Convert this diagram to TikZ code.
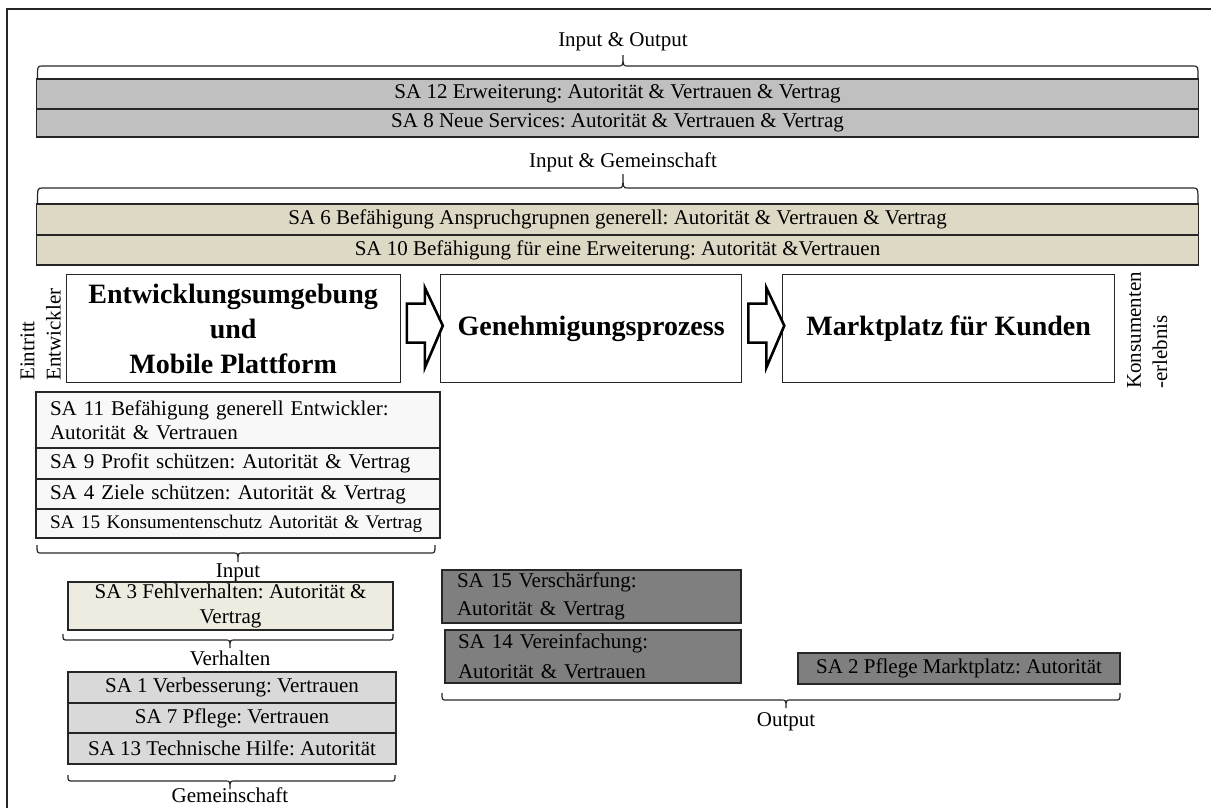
\documentclass[tikz,border=0pt]{standalone}
\usepackage{fontspec}
\setmainfont{Liberation Serif}
\definecolor{barGray}{HTML}{C0C0C0}
\definecolor{barBeige}{HTML}{DDD9C4}
\definecolor{devGray}{HTML}{F8F8F8}
\definecolor{behBeige}{HTML}{EEECE1}
\definecolor{comGray}{HTML}{D9D9D9}
\definecolor{outGray}{HTML}{7F7F7F}
% curly brace: x1, x2, x of tip, y of ends, y of bar, y of tip
\newcommand\sabrace[6]{%
  \draw[bracestyle] (#1,#4) .. controls (#1,#5) .. (#1+5,#5) -- (#3-5,#5)
    .. controls (#3,#5) .. (#3,#6) .. controls (#3,#5) .. (#3+5,#5)
    -- (#2-5,#5) .. controls (#2,#5) .. (#2,#4);}
\begin{document}
\frenchspacing
\begin{tikzpicture}[x=1pt,y=-1pt,
  regfont/.style={font=\fontsize{21}{24}\selectfont},
  sabox/.style={draw=black!85, line width=1.3pt, inner sep=0pt, outer sep=0pt,
    anchor=north west, regfont},
  leftbox/.style={sabox, align=left, inner xsep=14pt, text width=#1},
  titlebox/.style={draw=black!85, line width=1.3pt, inner sep=0pt, anchor=north west,
    align=center, font=\fontsize{28}{35}\selectfont\bfseries},
  lab/.style={inner sep=0pt, regfont},
  bracestyle/.style={draw=black!85, line width=1.2pt},
  blockarrow/.style={draw=black, line width=2.6pt, fill=white, line join=miter},
]
\useasboundingbox (0,0) rectangle (1211,807);
% outer frame
\draw[line width=1.5pt, black!85] (1215,9) -- (7,9) -- (7,812);

% top bars
\node[lab] (io) at (623,42) {Input \& Output};
\sabrace{37.5}{1198}{623}{78}{66}{55}
\node[sabox, fill=barGray, minimum width=1162pt, minimum height=30pt] (sa12) at (36.5,79)
  {SA 12 Erweiterung: Autorität \& Vertrauen \& Vertrag};
\node[sabox, fill=barGray, minimum width=1162pt, minimum height=28pt] (sa8) at (36.5,109)
  {SA 8 Neue Services: Autorität \& Vertrauen \& Vertrag};

\node[lab] (ig) at (623,162) {Input \& Gemeinschaft};
\sabrace{37.5}{1198}{623}{203}{188}{174}
\node[sabox, fill=barBeige, minimum width=1162pt, minimum height=31pt] (sa6) at (36.5,204)
  {SA 6 Befähigung Anspruchgrupnen generell: Autorität \& Vertrauen \& Vertrag};
\node[sabox, fill=barBeige, minimum width=1162pt, minimum height=30pt] (sa10) at (36.5,235)
  {SA 10 Befähigung für eine Erweiterung: Autorität \&Vertrauen};

% process chain
\node[titlebox, minimum width=334pt, minimum height=108pt] (dev) at (65.5,274)
  {Entwicklungsumgebung\\und\\Mobile Plattform};
\node[titlebox, minimum width=301pt, minimum height=108pt] (gen) at (440,274)
  {Genehmigungsprozess};
\node[titlebox, minimum width=332pt, minimum height=108pt] (mkt) at (782,274)
  {Marktplatz für Kunden};
\draw[blockarrow, shift={(dev.east)}] (6,-25) -- (24,-25) -- (24,-41) -- (42,-3)
  -- (24,39) -- (24,14) -- (6,14) -- cycle;
\draw[blockarrow, shift={(gen.east)}] (6,-25) -- (24,-25) -- (24,-41) -- (42,-3)
  -- (24,39) -- (24,14) -- (6,14) -- cycle;

\node[lab, rotate=90, anchor=west] (eintritt) at (27.5,381) {Eintritt};
\node[lab, rotate=90, anchor=west] (entw) at (53.5,381) {Entwickler};
\node[lab, rotate=90, anchor=west] (kons) at (1134,389) {Konsumenten};
\node[lab, rotate=90, anchor=west] (erl) at (1160,389) {-erlebnis};

% developer side
\node[leftbox=376pt, fill=devGray, minimum height=56pt] (sa11) at (36,392)
  {SA 11 Befähigung generell Entwickler:\\Autorität \& Vertrauen};
\node[leftbox=376pt, fill=devGray, minimum height=31pt] (sa9) at (36,448)
  {SA 9 Profit schützen: Autorität \& Vertrag};
\node[leftbox=376pt, fill=devGray, minimum height=30pt] (sa4) at (36,479)
  {SA 4 Ziele schützen: Autorität \& Vertrag};
\node[leftbox=376pt, fill=devGray, minimum height=29pt, font=\fontsize{19.2}{22}\selectfont] (sa15k) at (36,509)
  {\mbox{SA 15 Konsumentenschutz Autorität \& Vertrag}};
\sabrace{37}{435}{238}{545}{553}{562}
\node[lab] (inp) at (238,573) {Input};

\node[sabox, fill=behBeige, minimum width=325pt, minimum height=48pt, align=center,
  font=\fontsize{21}{25}\selectfont] (sa3) at (68,582)
  {SA 3 Fehlverhalten: Autorität \&\\Vertrag};
\sabrace{63}{393}{230}{634}{640}{648}
\node[lab] (verh) at (230,658) {Verhalten};

\node[sabox, fill=comGray, minimum width=328pt, minimum height=31pt] (sa1) at (68,672)
  {SA 1 Verbesserung: Vertrauen};
\node[sabox, fill=comGray, minimum width=328pt, minimum height=30pt] (sa7) at (68,703)
  {SA 7 Pflege: Vertrauen};
\node[sabox, fill=comGray, minimum width=328pt, minimum height=31pt] (sa13) at (68,733)
  {SA 13 Technische Hilfe: Autorität};
\sabrace{68}{395}{230}{775}{781}{789}
\node[lab] (gem) at (230,795) {Gemeinschaft};

% output side
\node[sabox, fill=outGray, align=left, inner xsep=15pt, text width=269pt,
  minimum height=53pt, font=\fontsize{21}{28}\selectfont] (sa15v) at (442,570)
  {SA 15 Verschärfung:\\Autorität \& Vertrag};
\node[sabox, fill=outGray, align=left, inner xsep=13pt, text width=270pt,
  minimum height=53pt, font=\fontsize{21}{30}\selectfont] (sa14) at (445,630)
  {SA 14 Vereinfachung:\\Autorität \& Vertrauen};
\node[sabox, fill=outGray, minimum width=322pt, minimum height=31pt] (sa2) at (798,653)
  {SA 2 Pflege Marktplatz: Autorität};
\sabrace{442}{1120}{786}{693}{700}{708}
\node[lab] (outp) at (786,722) {Output};
\end{tikzpicture}
\end{document}
